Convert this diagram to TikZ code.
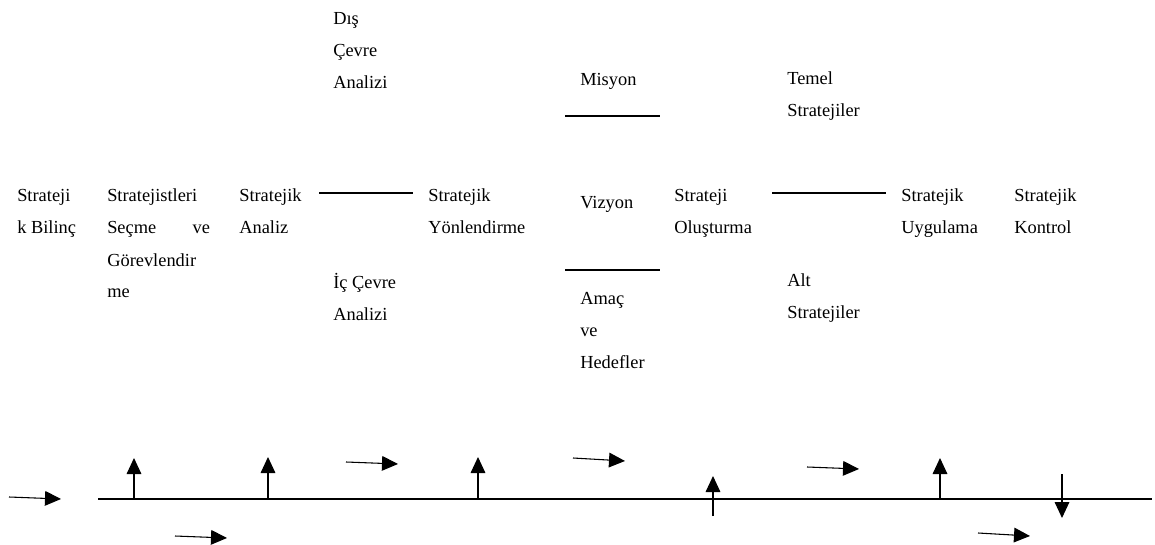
\documentclass[tikz,border=0pt]{standalone}
\usepackage{fontspec}
\setmainfont{Liberation Serif}
\usetikzlibrary{arrows.meta}
% left-aligned block whose baseline is that of its first line
\newcommand\blocktext[1]{\begin{tabular}[t]{@{}l@{}}#1\end{tabular}}
\begin{document}
\begin{tikzpicture}[x=0.75pt,y=-0.75pt,
  lbl/.style={anchor=base west,inner sep=0pt,font=\fontsize{13.8}{24}\selectfont},
  bar/.style={line width=1.5pt},
  flow/.style={line width=0.8pt,-{Triangle[length=12pt,width=11pt]}}]
\useasboundingbox (0,0) rectangle (1155,545);

% stage labels
\node[lbl] (bilinc) at (17,202) {\blocktext{Strateji\\k Bilinç}};
\node[lbl] (secme) at (107,202) {\blocktext{Stratejistleri\\\makebox[77pt][l]{Seçme\hfill ve}\\Görevlendir\\me}};
\node[lbl] (analiz) at (239,202) {\blocktext{Stratejik\\Analiz}};
\node[lbl] (dis) at (333,25) {\blocktext{Dış\\Çevre\\Analizi}};
\node[lbl] (ic) at (333,288) {\blocktext{İç Çevre\\Analizi}};
\node[lbl] (yon) at (428,202) {\blocktext{Stratejik\\Yönlendirme}};
\node[lbl] (misyon) at (580,86) {Misyon};
\node[lbl] (vizyon) at (580,209) {Vizyon};
\node[lbl] (amac) at (580,304) {\blocktext{Amaç\\ve\\Hedefler}};
\node[lbl] (olus) at (674,202) {\blocktext{Strateji\\Oluşturma}};
\node[lbl] (temel) at (787,85) {\blocktext{Temel\\Stratejiler}};
\node[lbl] (alt) at (787,286) {\blocktext{Alt\\Stratejiler}};
\node[lbl] (uyg) at (901,202) {\blocktext{Stratejik\\Uygulama}};
\node[lbl] (kontrol) at (1014,202) {\blocktext{Stratejik\\Kontrol}};

% separator bars
\coordinate (b1a) at (319,193); \coordinate (b1b) at (413,193);
\coordinate (b2a) at (565,116); \coordinate (b2b) at (660,116);
\coordinate (b3a) at (565,270); \coordinate (b3b) at (660,270);
\coordinate (b4a) at (772,193); \coordinate (b4b) at (886,193);
\draw[bar] (b1a) -- (b1b);
\draw[bar] (b2a) -- (b2b);
\draw[bar] (b3a) -- (b3b);
\draw[bar] (b4a) -- (b4b);

% time line
\coordinate (t0) at (98,499); \coordinate (t1) at (1152,499);
\draw[line width=0.8pt] (t0) -- (t1);

% vertical arrows
\coordinate (u1a) at (134,499); \coordinate (u1b) at (134,458);
\coordinate (u2a) at (268,499); \coordinate (u2b) at (268,457);
\coordinate (u3a) at (478,499); \coordinate (u3b) at (478,457);
\coordinate (u4a) at (713,516); \coordinate (u4b) at (713,476);
\coordinate (u5a) at (940,499); \coordinate (u5b) at (940,458);
\coordinate (d1a) at (1062,474); \coordinate (d1b) at (1062,518);
\draw[flow] (u1a) -- (u1b);
\draw[flow] (u2a) -- (u2b);
\draw[flow] (u3a) -- (u3b);
\draw[flow] (u4a) -- (u4b);
\draw[flow] (u5a) -- (u5b);
\draw[flow] (d1a) -- (d1b);

% horizontal arrows
\coordinate (r1a) at (9,497);   \coordinate (r1b) at (61,499);
\coordinate (r2a) at (175,536); \coordinate (r2b) at (227,538);
\coordinate (r3a) at (346,462); \coordinate (r3b) at (398,464);
\coordinate (r4a) at (573,458); \coordinate (r4b) at (625,461);
\coordinate (r5a) at (807,467); \coordinate (r5b) at (859,469);
\coordinate (r6a) at (978,533); \coordinate (r6b) at (1030,536);
\draw[flow] (r1a) -- (r1b);
\draw[flow] (r2a) -- (r2b);
\draw[flow] (r3a) -- (r3b);
\draw[flow] (r4a) -- (r4b);
\draw[flow] (r5a) -- (r5b);
\draw[flow] (r6a) -- (r6b);
\end{tikzpicture}
\end{document}
